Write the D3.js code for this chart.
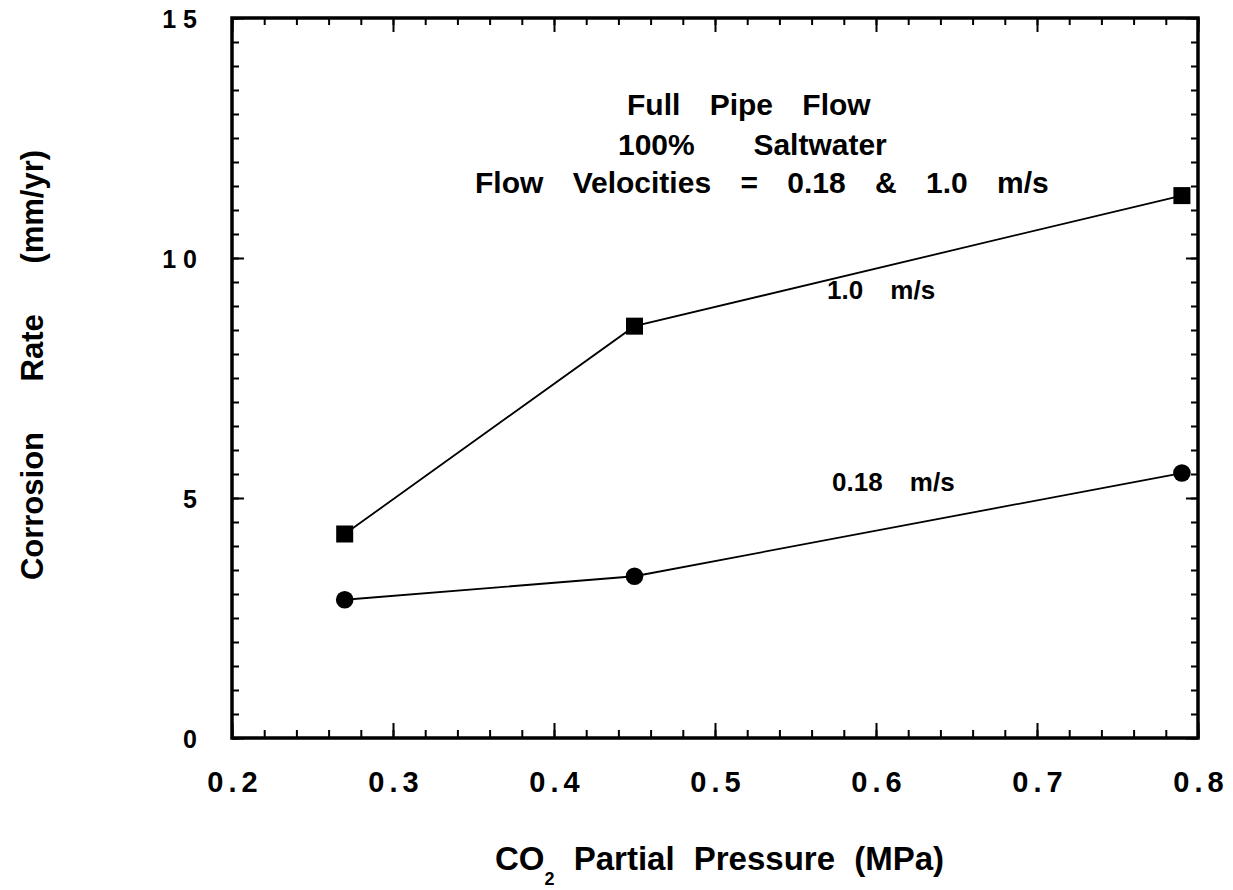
<!DOCTYPE html>
<html><head><meta charset="utf-8">
<script src="https://cdn.jsdelivr.net/npm/d3@7"></script>
<style>
body{margin:0;background:#fff;}
text{font-family:"Liberation Sans",Arial,Helvetica,sans-serif;font-weight:bold;fill:#000;}
</style></head><body>
<svg id="c" width="1233" height="890"></svg>
<script>
const pressure = [0.27, 0.45, 0.79];
const rate10 = [4.25, 8.58, 11.3];
const rate018 = [2.88, 3.37, 5.52];
const xMajorTicks = [0.2, 0.3, 0.4, 0.5, 0.6, 0.7, 0.8];
const yMajorTicks = [0, 5, 10, 15];
const xTickLabels = ["0.2","0.3","0.4","0.5","0.6","0.7","0.8"];
const yTickLabels = ["0","5","1 0","1 5"];
const titleLines = ["Full Pipe Flow", "100%  Saltwater", "Flow Velocities = 0.18 & 1.0 m/s"];
const seriesLabels = ["1.0 m/s", "0.18 m/s"];

const svg = d3.select("#c");
const L = 232, R = 1198, T = 18, B = 738;
const x = d3.scaleLinear().domain([0.2, 0.8]).range([L, R]);
const y = d3.scaleLinear().domain([0, 15]).range([B, T]);

const xMinor = d3.range(0.2, 0.8001, 0.02).map(v => +v.toFixed(2));
const yMinor = d3.range(0, 15.001, 0.5).map(v => +v.toFixed(1));
const FONT = "Liberation Sans, Arial, sans-serif";

function styleAxis(g){ g.select(".domain").remove(); g.selectAll("line").attr("stroke","#000").attr("stroke-width",2); }

// minor ticks
svg.append("g").attr("transform",`translate(0,${B})`).call(d3.axisBottom(x).tickValues(xMinor).tickSize(-8).tickFormat("")).call(styleAxis);
svg.append("g").attr("transform",`translate(0,${T})`).call(d3.axisTop(x).tickValues(xMinor).tickSize(-7).tickFormat("")).call(styleAxis);
svg.append("g").attr("transform",`translate(${L},0)`).call(d3.axisLeft(y).tickValues(yMinor).tickSize(-7).tickFormat("")).call(styleAxis);
svg.append("g").attr("transform",`translate(${R},0)`).call(d3.axisRight(y).tickValues(yMinor).tickSize(-7).tickFormat("")).call(styleAxis);
// major ticks
const xb = svg.append("g").attr("transform",`translate(0,${B})`).call(d3.axisBottom(x).tickValues(xMajorTicks).tickSize(-15).tickPadding(33).tickFormat((d,i)=>xTickLabels[i])).call(styleAxis);
svg.append("g").attr("transform",`translate(0,${T})`).call(d3.axisTop(x).tickValues(xMajorTicks).tickSize(-14).tickFormat("")).call(styleAxis);
const yl = svg.append("g").attr("transform",`translate(${L},0)`).call(d3.axisLeft(y).tickValues(yMajorTicks).tickSize(-12).tickPadding(35).tickFormat((d,i)=>yTickLabels[i])).call(styleAxis);
svg.append("g").attr("transform",`translate(${R},0)`).call(d3.axisRight(y).tickValues(yMajorTicks).tickSize(-12).tickFormat("")).call(styleAxis);
xb.selectAll("text").attr("font-size",29).attr("letter-spacing","5px").attr("font-family",FONT).attr("font-weight","bold").attr("dx","2.5px").attr("dy","0.72em");
yl.selectAll("text").attr("font-size",25).attr("font-family",FONT).attr("font-weight","bold").attr("dy","0.36em");

// frame
svg.append("rect").attr("x",L).attr("y",T).attr("width",R-L).attr("height",B-T).attr("fill","none").attr("stroke","#000").attr("stroke-width",3.5);

// lines
const line = d3.line().x(d=>x(d[0])).y(d=>y(d[1]));
const s10 = pressure.map((p,i)=>[p, rate10[i]]);
const s018 = pressure.map((p,i)=>[p, rate018[i]]);
svg.append("path").datum(s10).attr("d",line).attr("fill","none").attr("stroke","#000").attr("stroke-width",1.8);
svg.append("path").datum(s018).attr("d",line).attr("fill","none").attr("stroke","#000").attr("stroke-width",1.8);
svg.selectAll("rect.sq").data(s10).enter().append("rect").attr("class","sq")
  .attr("x",d=>x(d[0])-8.5).attr("y",d=>y(d[1])-8.5).attr("width",17).attr("height",17).attr("fill","#000");
svg.selectAll("circle.ci").data(s018).enter().append("circle").attr("class","ci")
  .attr("cx",d=>x(d[0])).attr("cy",d=>y(d[1])).attr("r",8.8).attr("fill","#000");

// annotation
const titlePos = [[627,115],[618,155],[475,193]];
titleLines.forEach((t,i)=>{
  svg.append("text").attr("x",titlePos[i][0]).attr("y",titlePos[i][1]).attr("font-size",30)
    .attr("word-spacing","21px").style("white-space","pre").text(t);
});
svg.append("text").attr("x",827).attr("y",299).attr("font-size",26).attr("word-spacing","20px").text(seriesLabels[0]);
svg.append("text").attr("x",832).attr("y",491).attr("font-size",26).attr("word-spacing","20px").text(seriesLabels[1]);

// axis titles
const xt = svg.append("text").attr("x",495).attr("y",870).attr("font-size",33).attr("word-spacing","10px");
xt.append("tspan").text("CO");
xt.append("tspan").attr("font-size",18).attr("dy",15).text("2");
xt.append("tspan").attr("dy",-15).text(" Partial Pressure (MPa)");
svg.append("text").attr("transform","translate(43,365) rotate(-90)").attr("text-anchor","middle").attr("font-size",31).attr("word-spacing","42px").text("Corrosion Rate (mm/yr)");
</script></body></html>
